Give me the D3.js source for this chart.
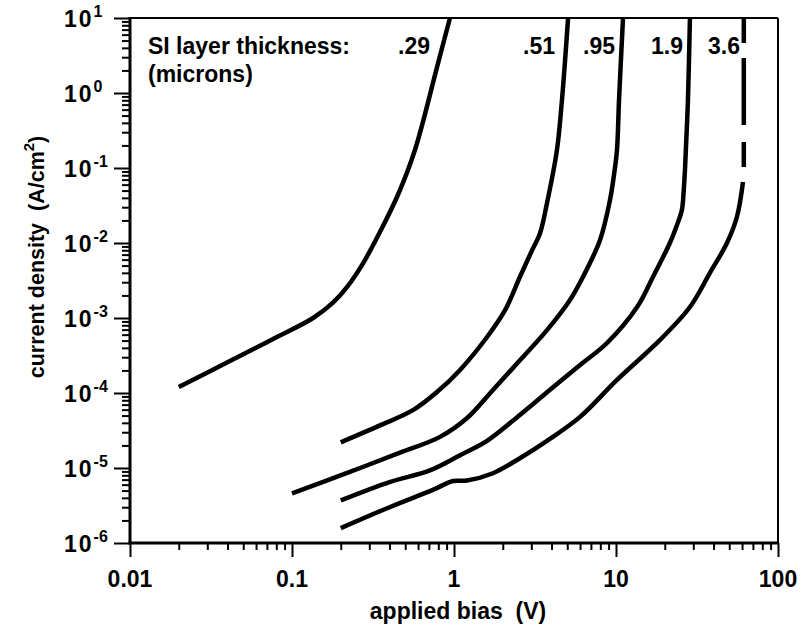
<!DOCTYPE html>
<html>
<head>
<meta charset="utf-8">
<script src="https://cdn.jsdelivr.net/npm/d3@7"></script>
<style>
  html, body { margin: 0; padding: 0; background: #fff; }
  svg text { font-family: "Liberation Sans", Arial, Helvetica, sans-serif; fill: #000; font-weight: bold; white-space: pre; }
</style>
</head>
<body>
<svg id="chart" width="804" height="626"></svg>
<script>
// Current density vs applied bias for several SI layer thicknesses (microns)
const thicknessLabels = [".29", ".51", ".95", "1.9", "3.6"];

const bias029 = [0.02, 0.0414, 0.0764, 0.135, 0.179, 0.219, 0.275, 0.349, 0.451, 0.574, 0.785, 0.944];
const jd029   = [1.2e-4, 2.67e-4, 5.25e-4, 1.0e-3, 1.6e-3, 2.6e-3, 5.4e-3, 0.014, 0.044, 0.174, 2.2, 10];

const bias051 = [0.2, 0.349, 0.558, 0.785, 1.09, 1.60, 2.07, 2.55, 3.00, 3.40, 3.75, 4.32, 4.64, 5.06];
const jd051   = [2.2e-5, 3.7e-5, 5.9e-5, 1.03e-4, 2.03e-4, 5.58e-4, 1.28e-3, 3.52e-3, 7.6e-3, 0.0136, 0.0341, 0.174, 0.81, 10];

const bias095 = [0.1, 0.219, 0.464, 0.82, 1.20, 1.74, 2.56, 3.75, 5.20, 6.25, 7.97, 9.18, 9.72, 10.14, 10.44, 11.05];
const jd095   = [4.6e-6, 8.6e-6, 1.6e-5, 2.6e-5, 4.6e-5, 1.1e-4, 2.75e-4, 6.9e-4, 1.74e-3, 3.52e-3, 0.011, 0.0374, 0.081, 0.174, 0.81, 10];

const bias19 = [0.2, 0.40, 0.71, 1.09, 1.60, 2.55, 3.75, 6.0, 8.8, 13.5, 16.9, 21.5, 23.8, 25.5, 26.2, 26.7, 27.8, 28.6];
const jd19   = [3.7e-6, 6.5e-6, 9.3e-6, 1.48e-5, 2.3e-5, 5.1e-5, 1.02e-4, 2.36e-4, 4.64e-4, 1.4e-3, 3.52e-3, 0.01, 0.0174, 0.0275, 0.051, 0.103, 0.81, 10];

const bias36 = [0.2, 0.40, 0.74, 0.986, 1.2, 1.74, 2.55, 3.75, 6.0, 10.1, 18.7, 28.6, 38, 48.4, 55.8, 60.8];
const jd36   = [1.58e-6, 3.0e-6, 5.1e-6, 6.7e-6, 6.8e-6, 8.5e-6, 1.35e-5, 2.3e-5, 4.8e-5, 1.48e-4, 5.1e-4, 1.4e-3, 4.0e-3, 0.01, 0.0224, 0.065];

// extrapolated (dashed) part of the 3.6 micron curve
const bias36Dash = [61.5, 61.5];
const jd36Dash   = [0.065, 10];

const xTickValues = [0.01, 0.1, 1, 10, 100];
const xTickLabels = ["0.01", "0.1", "1", "10", "100"];
const yTickExponents = [1, 0, -1, -2, -3, -4, -5, -6];

const svg = d3.select("#chart");
const W = 804, H = 626;
const m = { left: 130, right: 26, top: 18, bottom: 83 };

const x = d3.scaleLog().domain([0.01, 100]).range([m.left, W - m.right]);
const y = d3.scaleLog().domain([1e-6, 10]).range([H - m.bottom, m.top]);

// minor tick values (2..9 per decade)
function minorTicks(lo, hi) {
  const out = [];
  for (let e = Math.log10(lo); e < Math.log10(hi); e++) {
    for (let k = 2; k <= 9; k++) out.push(k * Math.pow(10, e));
  }
  return out;
}

// ---- axes ----
const gx = svg.append("g").attr("transform", `translate(0,${H - m.bottom})`);
gx.call(d3.axisBottom(x).tickValues(minorTicks(0.01, 100)).tickSize(7).tickFormat(""));
gx.append("g").call(d3.axisBottom(x).tickValues(xTickValues).tickSize(14).tickFormat(""));
gx.selectAll(".domain").remove();
gx.selectAll("line").attr("stroke", "#000").attr("stroke-width", 2);

const gy = svg.append("g").attr("transform", `translate(${m.left},0)`);
gy.call(d3.axisLeft(y).tickValues(minorTicks(1e-6, 10)).tickSize(8).tickFormat(""));
gy.append("g").call(d3.axisLeft(y).tickValues(yTickExponents.map(e => Math.pow(10, e))).tickSize(16).tickFormat(""));
gy.selectAll(".domain").remove();
gy.selectAll("line").attr("stroke", "#000").attr("stroke-width", 2);

// frame
const [x0, x1] = x.range();
const [y0, y1] = y.range();
svg.append("line").attr("x1", x0).attr("x2", x1).attr("y1", y1).attr("y2", y1).attr("stroke", "#000").attr("stroke-width", 2);
svg.append("line").attr("x1", x1).attr("x2", x1).attr("y1", y1).attr("y2", y0).attr("stroke", "#000").attr("stroke-width", 2);
svg.append("line").attr("x1", x0).attr("x2", x0).attr("y1", y1 - 1).attr("y2", y0 + 1.5).attr("stroke", "#000").attr("stroke-width", 3);
svg.append("line").attr("x1", x0 - 1.5).attr("x2", x1).attr("y1", y0).attr("y2", y0).attr("stroke", "#000").attr("stroke-width", 3);

// tick labels
svg.append("g").selectAll("text").data(xTickValues).join("text")
  .attr("x", d => x(d)).attr("y", y0 + 44)
  .attr("text-anchor", "middle").attr("font-size", 23)
  .text((d, i) => xTickLabels[i]);

const yl = svg.append("g").selectAll("text").data(yTickExponents).join("text")
  .attr("x", 64).attr("y", d => y(Math.pow(10, d)) + 8.5)
  .attr("font-size", 23);
yl.append("tspan").attr("letter-spacing", 2).text("10");
yl.append("tspan").attr("dy", -10).attr("dx", 0).attr("font-size", 16)
  .text(d => d < 0 ? "-" + Math.abs(d) : String(d));

// axis titles
svg.append("text").attr("x", (x0 + x1) / 2 + 4).attr("y", 619)
  .attr("text-anchor", "middle").attr("font-size", 23)
  .text("applied bias  (V)");

const yt = svg.append("text").attr("transform", "translate(44,257) rotate(-90)")
  .attr("text-anchor", "middle").attr("font-size", 21.5);
yt.append("tspan").text("current density  (A/cm");
yt.append("tspan").attr("dy", -10).attr("font-size", 15).text("2");
yt.append("tspan").attr("dy", 10).text(")");

// ---- curves ----
const line = d3.line()
  .x(d => x(d[0])).y(d => y(d[1]))
  .curve(d3.curveCatmullRom.alpha(0.5));

const series = [
  [bias029, jd029], [bias051, jd051], [bias095, jd095], [bias19, jd19], [bias36, jd36]
].map(([b, j]) => b.map((v, i) => [v, j[i]]));

svg.append("g").selectAll("path").data(series).join("path")
  .attr("d", line)
  .attr("fill", "none").attr("stroke", "#000").attr("stroke-width", 4.5);

svg.append("path")
  .datum(bias36Dash.map((v, i) => [v, jd36Dash[i]]))
  .attr("d", d3.line().x(d => x(d[0])).y(d => y(d[1])))
  .attr("fill", "none").attr("stroke", "#000").attr("stroke-width", 4.5)
  .attr("stroke-dasharray", "0,15,25,17,67,15,40,100");

// legend text
svg.append("text").attr("x", 148).attr("y", 54).attr("font-size", 23).text("SI layer thickness:");
svg.append("text").attr("x", 148).attr("y", 82).attr("font-size", 23).text("(microns)");

const labelEnds = [430, 555, 615, 683, 740];
svg.append("g").selectAll("text").data(thicknessLabels).join("text")
  .attr("x", (d, i) => labelEnds[i]).attr("y", 54)
  .attr("text-anchor", "end").attr("font-size", 23)
  .text(d => d);
</script>
</body>
</html>
